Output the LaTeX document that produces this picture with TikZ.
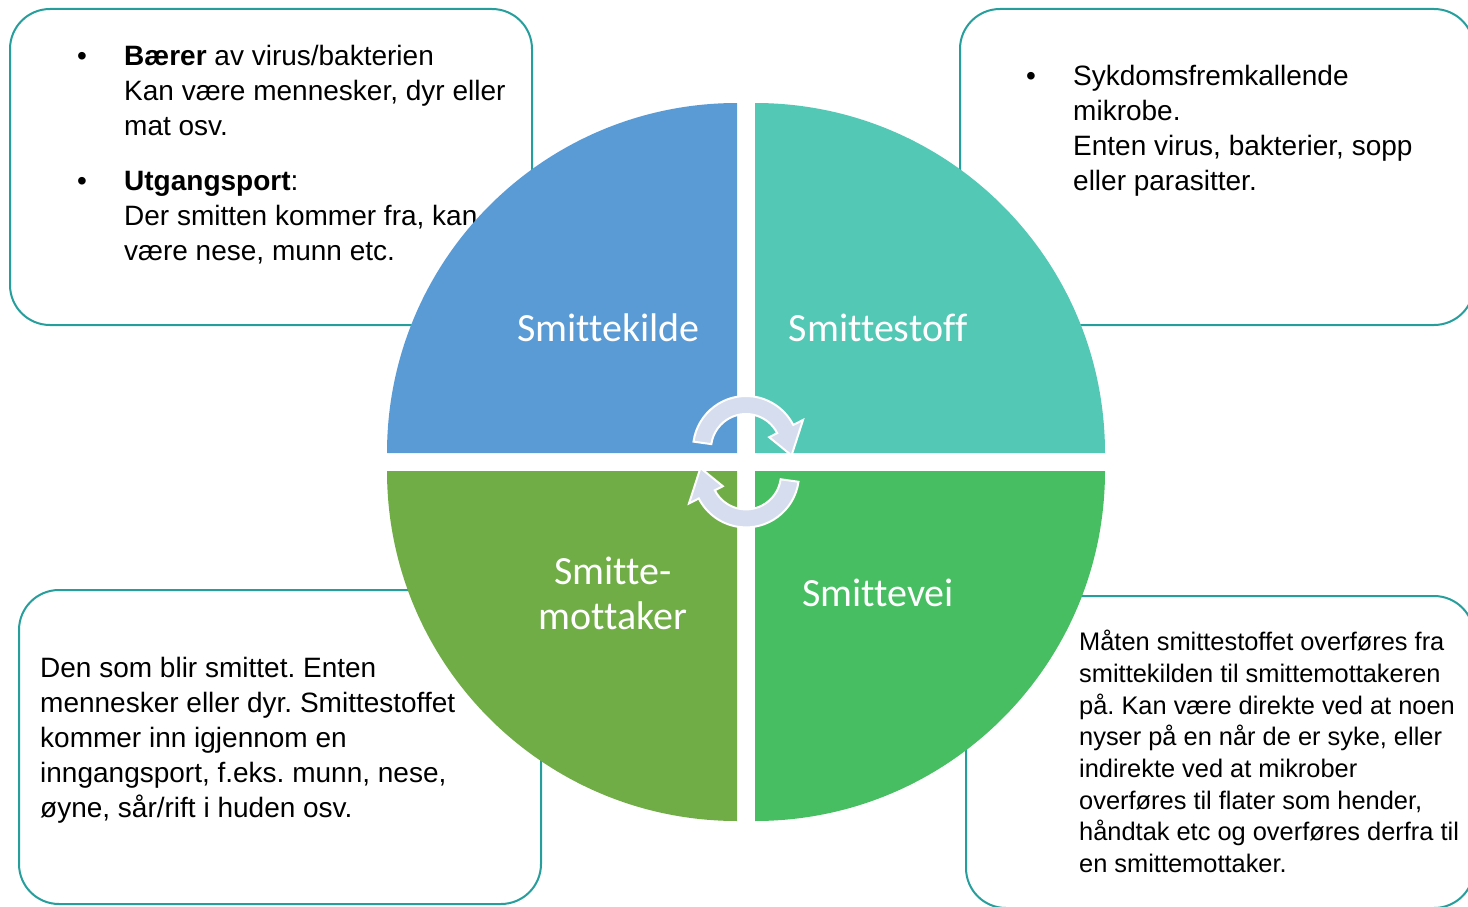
\documentclass[tikz,border=0pt]{standalone}
\usepackage{fontspec}
\setmainfont{Liberation Sans}
\newfontfamily\labelfont[Ligatures = NoCommon]{Carlito}
\usepackage{xcolor}
\usepackage{tikz}
\usetikzlibrary{calc,positioning}

\definecolor{kildeblue}{RGB}{91,155,213}
\definecolor{stoffteal}{RGB}{82,200,181}
\definecolor{mottgreen}{RGB}{112,173,71}
\definecolor{veigreen}{RGB}{72,190,98}
\definecolor{boxline}{RGB}{38,158,156}
\definecolor{arrowfill}{RGB}{214,221,238}

\tikzset{
  infobox/.style = {draw = boxline, line width = 2pt, fill = white,
                    rounded corners = 40pt, inner sep = 0pt},
  infotext/.style = {anchor = base west, inner sep = 0pt,
                     font = \fontsize{28}{35}\selectfont},
  smalltext/.style = {infotext, font = \fontsize{25.4}{31.7}\selectfont},
  dotitem/.style = {anchor = base, inner sep = 0pt,
                    font = \fontsize{28}{35}\selectfont},
  quartlabel/.style = {text = white, inner sep = 0pt, align = center,
                       font = \labelfont\fontsize{40}{45}\selectfont},
  cyclearrow/.style = {fill = arrowfill, draw = white, line width = 2pt}
}

\newcommand{\cyclepath}{%
  (172:53) arc[start angle = 172, end angle = 27, radius = 53]
  -- (27:64) -- (-8:46) -- (27:26) -- (27:35)
  arc[start angle = 27, end angle = 172, radius = 35] -- cycle}

\frenchspacing

\begin{document}
\begin{tikzpicture}[x = 1pt, y = 1pt]

\useasboundingbox (0,0) rectangle (1468,-907);
\clip (0,0) rectangle (1468,-907);

% boxes behind the circle
\node[infobox, minimum width = 522, minimum height = 316] (kildebox) at (271,-167) {};
\node[infobox, minimum width = 514, minimum height = 316] (stoffbox) at (1217,-167) {};
\node[infobox, minimum width = 522, minimum height = 314] (mottbox) at (280,-747) {};
\node[infobox, minimum width = 508, minimum height = 312] (veibox) at (1220,-752) {};

\node[dotitem] (kildedot1) at (82,-65.5) {•};
\node[infotext] (kildetext1) at (124,-65.5)
  {\parbox[t]{420pt}{\raggedright \textbf{Bærer} av virus/bakterien\\
   Kan være mennesker, dyr eller\\ mat osv.}};
\node[dotitem] (kildedot2) at (82,-190.5) {•};
\node[infotext] (kildetext2) at (124,-190.5)
  {\parbox[t]{420pt}{\raggedright \textbf{Utgangsport}:\\
   Der smitten kommer fra, kan\\ være nese, munn etc.}};

\node[dotitem] (stoffdot) at (1031,-85.5) {•};
\node[infotext] (stofftext) at (1073,-85.5)
  {\parbox[t]{420pt}{\raggedright Sykdomsfremkallende\\ mikrobe.\\
   Enten virus, bakterier, sopp\\ eller parasitter.}};

\node[infotext] (motttext) at (40,-677.5)
  {\parbox[t]{480pt}{\raggedright Den som blir smittet. Enten\\
   mennesker eller dyr. Smittestoffet\\ kommer inn igjennom en\\
   inngangsport, f.eks. munn, nese,\\ øyne, sår/rift i huden osv.}};

\node[smalltext] (veitext) at (1079,-650.6)
  {\parbox[t]{420pt}{\raggedright Måten smittestoffet overføres fra\\
   smittekilden til smittemottakeren\\ på. Kan være direkte ved at noen\\
   nyser på en når de er syke, eller\\ indirekte ved at mikrober\\
   overføres til flater som hender,\\ håndtak etc og overføres derfra til\\
   en smittemottaker.}};

% the four quarters
\fill[kildeblue] (737,-453) -- ++(-350,0) arc[start angle = 180, end angle = 90, radius = 350] -- cycle;
\fill[stoffteal] (755,-453) -- ++(0,350) arc[start angle = 90, end angle = 0, radius = 350] -- cycle;
\fill[mottgreen] (737,-471) -- ++(0,-350) arc[start angle = 270, end angle = 180, radius = 350] -- cycle;
\fill[veigreen] (755,-471) -- ++(350,0) arc[start angle = 0, end angle = -90, radius = 350] -- cycle;

\node[quartlabel] (kilde) at (608.5,-328) {Smittekilde};
\node[quartlabel] (stoff) at (878,-328) {Smittestoff};
\node[quartlabel] (mottaker) at (613,-593) {Smitte-\\mottaker};
\node[quartlabel] (vei) at (878,-593) {Smittevei};

% cycle arrows
\begin{scope}[shift = {(746,-449)}]
  \filldraw[cyclearrow] \cyclepath;
\end{scope}
\begin{scope}[shift = {(746,-474.4)}, rotate = 180]
  \filldraw[cyclearrow] \cyclepath;
\end{scope}

\end{tikzpicture}
\end{document}
